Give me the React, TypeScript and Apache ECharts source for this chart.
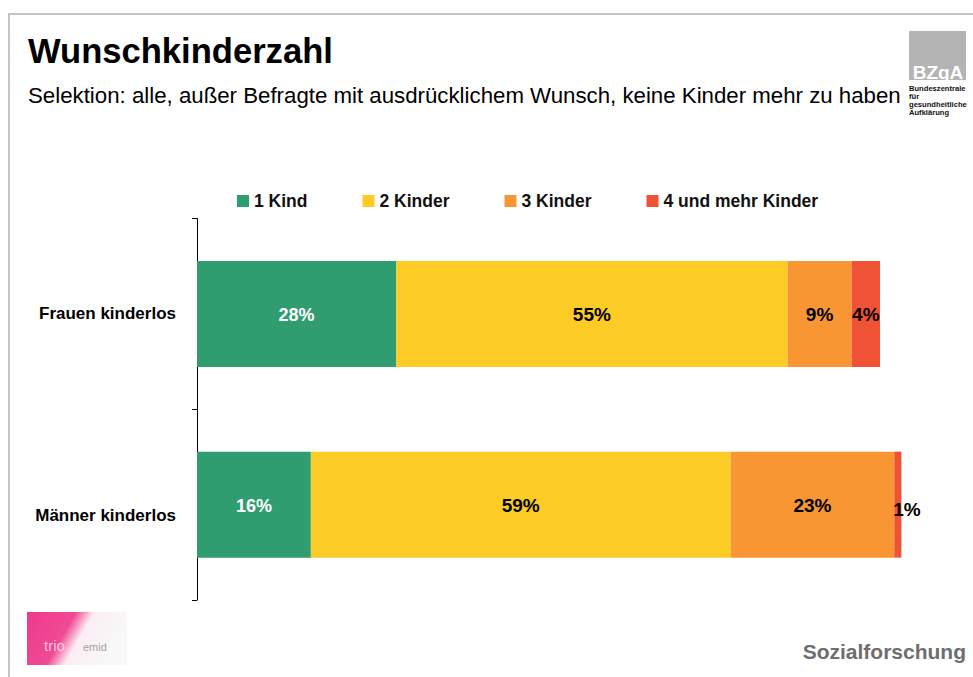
import React, { useEffect, useRef } from "react";
import * as echarts from "echarts";

const categories = ["Frauen kinderlos", "Männer kinderlos"];
const seriesNames = ["1 Kind", "2 Kinder", "3 Kinder", "4 und mehr Kinder"];
const einKind = [28, 16];
const zweiKinder = [55, 59];
const dreiKinder = [9, 23];
const vierUndMehr = [4, 1];
const colors = ["#2f9d70", "#fccb26", "#f79632", "#f05236"];

const FONT = "'Liberation Sans', Arial, Helvetica, sans-serif";

export default function App() {
  const ref = useRef<HTMLDivElement>(null);
  useEffect(() => {
    document.body.style.margin = "0";
    if (!ref.current) return;
    const chart = echarts.init(ref.current, undefined, { renderer: "svg" });
    const labelBase = {
      show: true,
      position: "inside" as const,
      formatter: "{c}%",
      fontFamily: FONT,
      fontWeight: "bold" as const,
      fontSize: 19,
      color: "#000",
      offset: [0, 1],
    };
    const values = [einKind, zweiKinder, dreiKinder, vierUndMehr];
    const series = values.map((arr, i) => ({
      name: seriesNames[i],
      type: "bar",
      stack: "total",
      barWidth: 106,
      itemStyle: { color: colors[i] },
      label:
        i === 0
          ? { ...labelBase, color: "#fff", fontSize: 18 }
          : labelBase,
      data: arr.map((v, j) => {
        if (i === 3 && j === 1) {
          return {
            value: v,
            label: {
              position: [-1, "50%"],
              align: "left",
              verticalAlign: "middle",
              offset: [0, 5],
            },
          };
        }
        return v;
      }),
    }));
    chart.setOption({
      animation: false,
      textStyle: { fontFamily: FONT },
      grid: {
        left: 197,
        top: 218.5,
        height: 381.5,
        width: 711.5,
        containLabel: false,
        outerBoundsMode: "none",
      },
      legend: {
        data: seriesNames,
        left: 232,
        top: 187,
        icon: "rect",
        itemWidth: 12,
        itemHeight: 12,
        itemGap: 55,
        textStyle: { fontFamily: FONT, fontWeight: "bold", fontSize: 17.5, color: "#111" },
      },
      xAxis: { type: "value", min: 0, max: 100, show: false },
      yAxis: {
        type: "category",
        inverse: true,
        data: categories,
        axisLine: { show: true, lineStyle: { color: "#000", width: 1 } },
        axisTick: { show: true, length: 5, lineStyle: { color: "#000" } },
        axisLabel: {
          margin: 21,
          fontFamily: FONT,
          fontWeight: "bold",
          fontSize: 17,
          lineHeight: 21,
          color: "#000",
          formatter: (v: string, idx: number) => (idx === 1 ? "\n" + v : v),
        },
        splitLine: { show: false },
      },
      series,
      graphic: [
        {
          type: "rect",
          shape: { x: 9, y: 14, width: 1000, height: 700 },
          style: { fill: "none", stroke: "#c4c4c4", lineWidth: 2 },
          silent: true,
        },
        {
          type: "text",
          x: 28,
          y: 51,
          style: { text: "Wunschkinderzahl", fontFamily: FONT, fontWeight: "bold", fontSize: 34.6, fill: "#000", verticalAlign: "middle" },
        },
        {
          type: "text",
          x: 28,
          y: 95,
          style: {
            text: "Selektion: alle, außer Befragte mit ausdrücklichem Wunsch, keine Kinder mehr zu haben",
            fontFamily: FONT,
            fontSize: 22.25,
            fill: "#000",
            verticalAlign: "middle",
          },
        },
        {
          type: "rect",
          shape: { x: 909, y: 31, width: 57, height: 49 },
          style: { fill: "#b4b4b4" },
        },
        {
          type: "text",
          x: 938,
          y: 72,
          style: { text: "BZgA", fontFamily: FONT, fontWeight: "bold", fontSize: 19, fill: "#fff", align: "center", verticalAlign: "middle" },
        },
        ...["Bundeszentrale", "für", "gesundheitliche", "Aufklärung"].map((t, k) => ({
          type: "text",
          x: 909,
          y: 88 + k * 8.2,
          style: { text: t, fontFamily: FONT, fontWeight: "bold", fontSize: 7.6, fill: "#111", verticalAlign: "middle" },
        })),
        {
          type: "rect",
          shape: { x: 27, y: 612, width: 100, height: 53 },
          style: {
            fill: new echarts.graphic.LinearGradient(0, 0, 1, 0.3, [
              { offset: 0, color: "#ee3a8c" },
              { offset: 0.45, color: "#f04a95" },
              { offset: 0.62, color: "#fbeef4" },
              { offset: 1, color: "#f8f8f8" },
            ]),
          },
        },
        {
          type: "text",
          x: 44,
          y: 645,
          style: { text: "trio", fontFamily: FONT, fontSize: 15, fill: "rgba(255,220,235,0.85)", verticalAlign: "middle" },
        },
        {
          type: "text",
          x: 83,
          y: 647,
          style: { text: "emid", fontFamily: FONT, fontSize: 11, fill: "rgba(120,120,120,0.7)", verticalAlign: "middle" },
        },
        {
          type: "text",
          x: 966,
          y: 651,
          style: { text: "Sozialforschung", fontFamily: FONT, fontWeight: "bold", fontSize: 21, fill: "#6e6e6e", align: "right", verticalAlign: "middle" },
        },
      ],
    });
    return () => chart.dispose();
  }, []);
  return <div ref={ref} style={{ width: 973, height: 677, background: "#fff" }} />;
}
